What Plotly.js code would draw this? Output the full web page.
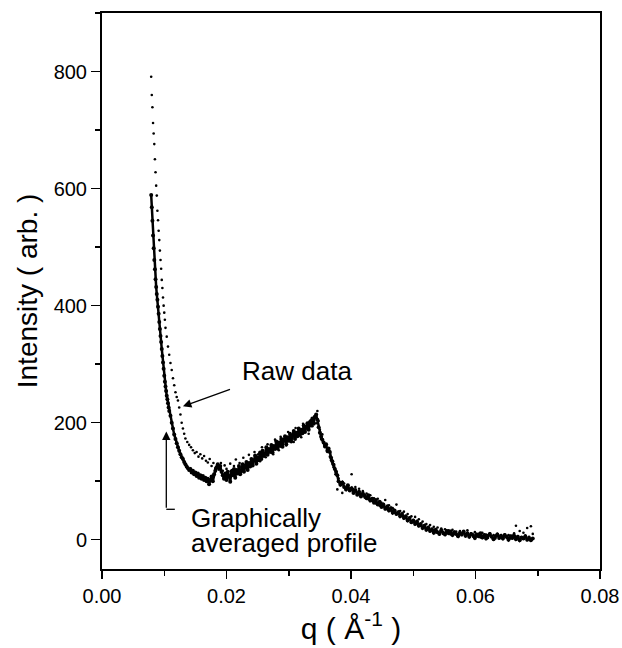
<!DOCTYPE html>
<html>
<head>
<meta charset="utf-8">
<script src="https://cdn.plot.ly/plotly-3.0.1.min.js"></script>
<style>html,body{margin:0;padding:0;background:#fff;}#chart{width:622px;height:648px;}</style>
</head>
<body>
<div id="chart"></div>
<script>
// Raw data (dotted scatter): [q, intensity]
const rawData = [
[0.0079,791],[0.0080,760],[0.0081,739],[0.0082,712],[0.0083,694],[0.0084,676],[0.0085,650],[0.0086,628],[0.0087,605],[0.0088,588],
[0.0089,562],[0.0090,546],[0.0091,528],[0.0092,512],[0.0093,494],[0.0094,478],[0.0095,463],[0.0096,444],[0.0097,430],[0.0098,414],
[0.0099,400],[0.0100,388],[0.0101,376],[0.0102,362],[0.0104,347],[0.0106,330],[0.0108,316],[0.0110,302],[0.0112,290],[0.0114,276],
[0.0116,264],[0.0118,252],[0.0120,244],[0.0122,238],[0.0124,226],[0.0126,214],[0.0128,200],[0.0130,190],[0.0132,181],[0.0134,173],
[0.0137,167],[0.0140,162],[0.0143,158],[0.0146,153],[0.0149,148],[0.0152,150],[0.0155,142],[0.0158,146],[0.0161,139],[0.0164,143],
[0.0167,135],[0.0170,132],[0.0173,138],[0.0176,126],[0.0179,131],[0.0182,122],[0.0185,127],
[0.0188,124],[0.0191,131],[0.0194,118],[0.0197,127],[0.0200,121],[0.0203,112],[0.0206,130],[0.0209,119],[0.0212,126],[0.0215,137],
[0.0218,115],[0.0221,131],[0.0224,124],[0.0227,140],[0.0230,128],[0.0233,121],[0.0236,145],[0.0239,133],[0.0242,127],[0.0245,150],
[0.0248,138],[0.0251,146],[0.0254,134],[0.0257,158],[0.0260,147],[0.0263,141],[0.0266,163],[0.0269,152],[0.0272,158],[0.0275,146],
[0.0278,171],[0.0281,160],[0.0284,153],[0.0287,176],[0.0290,165],[0.0293,172],[0.0296,161],[0.0299,184],[0.0302,170],[0.0305,178],
[0.0308,167],[0.0311,191],[0.0314,180],[0.0317,186],[0.0320,175],[0.0323,198],[0.0326,186],[0.0329,192],[0.0332,181],[0.0335,204],
[0.0338,194],[0.0341,210],[0.0344,199],[0.0346,220],[0.0348,203],
[0.0350,188],[0.0352,172],[0.0354,180],[0.0356,166],[0.0358,158],[0.0360,162],[0.0362,150],[0.0364,155],[0.0366,142],[0.0368,136],
[0.0370,130],[0.0372,124],[0.0375,112],[0.0378,86],[0.0380,105],[0.0383,98],[0.0386,80],[0.0389,96],[0.0392,88],[0.0395,93],
[0.0398,84],[0.0401,112],[0.0404,86],[0.0407,90],[0.0410,80],[0.0413,87],[0.0416,77],[0.0419,83],[0.0422,72],[0.0425,79],
[0.0428,69],[0.0431,76],[0.0434,66],[0.0437,71],[0.0440,62],[0.0443,70],[0.0446,58],[0.0449,63],[0.0452,57],[0.0455,68],
[0.0458,52],[0.0461,59],[0.0464,50],[0.0467,54],[0.0470,46],[0.0473,60],[0.0476,44],[0.0479,49],[0.0482,41],[0.0485,48],
[0.0488,37],[0.0491,44],[0.0494,35],[0.0497,40],[0.0500,31],[0.0503,39],[0.0506,28],[0.0509,35],[0.0512,24],[0.0515,31],
[0.0518,21],[0.0521,27],[0.0524,18],[0.0527,25],[0.0530,16],[0.0533,22],[0.0536,13],[0.0539,21],[0.0542,12],[0.0545,19],
[0.0548,10],[0.0551,18],[0.0554,11],[0.0557,16],[0.0560,9],[0.0563,17],[0.0566,10],[0.0569,14],[0.0572,7],[0.0575,15],
[0.0578,8],[0.0581,12],[0.0584,6],[0.0587,16],[0.0590,7],[0.0593,11],[0.0596,5],[0.0599,13],[0.0602,6],[0.0605,10],
[0.0608,4],[0.0611,12],[0.0614,5],[0.0617,9],[0.0620,3],[0.0623,11],[0.0626,6],[0.0629,8],[0.0632,2],[0.0635,10],
[0.0638,5],[0.0641,7],[0.0644,3],[0.0647,9],[0.0650,4],[0.0653,8],[0.0656,2],[0.0659,7],[0.0662,11],[0.0665,24],
[0.0668,6],[0.0671,15],[0.0674,4],[0.0677,12],[0.0680,7],[0.0683,20],[0.0686,5],[0.0689,23],[0.0692,10]
];

// Graphically averaged profile: [q, intensity]
const avgData = [
[0.0079,589],[0.0080,568],[0.0081,545],[0.0082,520],[0.0083,498],[0.0084,478],[0.0085,462],[0.0086,445],[0.0087,432],[0.0088,420],
[0.0089,410],[0.0090,398],[0.0091,386],[0.0092,372],[0.0093,360],[0.0094,348],[0.0095,338],[0.0096,326],[0.0097,314],[0.0098,303],
[0.0099,292],[0.0100,280],[0.0101,270],[0.0102,262],[0.0103,254],[0.0104,246],[0.0105,240],[0.0106,233],[0.0107,226],[0.0108,220],
[0.0110,212],[0.0112,200],[0.0114,190],[0.0116,180],[0.0118,172],[0.0120,165],[0.0122,158],[0.0124,152],[0.0126,146],[0.0128,141],
[0.0130,138],[0.0132,133],[0.0134,129],[0.0136,125],[0.0138,122],[0.0140,119],[0.0142,121],[0.0144,115],[0.0146,118],[0.0148,112],
[0.0150,115],[0.0152,109],[0.0154,113],[0.0156,106],[0.0158,110],[0.0160,104],[0.0162,109],[0.0164,102],[0.0166,106],[0.0168,100],
[0.0170,104],[0.0172,95],[0.0174,102],[0.0176,108],[0.0178,100],[0.0180,112],[0.0182,118],[0.0184,124],[0.0186,129],[0.0188,121],
[0.0190,126],[0.0192,116],[0.0194,110],
[0.0196,104],[0.0198,113],[0.0200,102],[0.0202,116],[0.0204,108],[0.0206,99],[0.0208,117],[0.0210,110],[0.0212,121],[0.0214,106],
[0.0216,119],[0.0218,113],[0.0220,126],[0.0222,112],[0.0224,118],[0.0226,129],[0.0228,116],[0.0230,124],[0.0232,133],[0.0234,119],
[0.0236,131],[0.0238,125],[0.0240,138],[0.0242,127],[0.0244,135],[0.0246,144],[0.0248,130],[0.0250,141],[0.0252,136],[0.0254,149],
[0.0256,138],[0.0258,152],[0.0260,143],[0.0262,147],[0.0264,158],[0.0266,145],[0.0268,155],[0.0270,150],[0.0272,162],[0.0274,149],
[0.0276,160],[0.0278,155],[0.0280,168],[0.0282,156],[0.0284,166],[0.0286,160],[0.0288,172],[0.0290,159],[0.0292,170],[0.0294,177],
[0.0296,163],[0.0298,175],[0.0300,169],[0.0302,181],[0.0304,168],[0.0306,178],[0.0308,186],[0.0310,172],[0.0312,183],[0.0314,177],
[0.0316,190],[0.0318,179],[0.0320,188],[0.0322,182],[0.0324,195],[0.0326,184],[0.0328,193],[0.0330,199],[0.0332,188],[0.0334,201],
[0.0336,195],[0.0338,207],[0.0340,198],[0.0342,210],[0.0344,214],
[0.0346,205],[0.0348,192],[0.0350,183],[0.0352,176],[0.0354,171],[0.0356,166],[0.0358,160],[0.0360,163],[0.0362,152],[0.0364,156],
[0.0366,150],[0.0368,140],[0.0370,134],[0.0372,128],[0.0374,121],[0.0376,116],[0.0378,110],
[0.0380,100],[0.0383,94],[0.0386,98],[0.0389,90],[0.0392,86],[0.0395,93],[0.0398,84],[0.0401,88],[0.0404,80],[0.0407,85],
[0.0410,77],[0.0413,82],[0.0416,74],[0.0419,79],[0.0422,75],[0.0425,71],[0.0428,76],[0.0431,67],[0.0434,70],[0.0437,63],
[0.0440,68],[0.0443,60],[0.0446,65],[0.0449,56],[0.0452,60],[0.0455,53],[0.0458,57],[0.0461,50],[0.0464,54],[0.0467,46],
[0.0470,50],[0.0473,44],[0.0476,47],[0.0479,40],[0.0482,44],[0.0485,37],[0.0488,40],[0.0491,33],[0.0494,37],[0.0497,30],
[0.0500,33],[0.0503,27],[0.0506,31],[0.0509,24],[0.0512,27],[0.0515,20],[0.0518,24],[0.0521,17],[0.0524,21],[0.0527,15],
[0.0530,18],[0.0533,12],[0.0536,17],[0.0539,13],[0.0542,10],[0.0545,16],[0.0548,12],[0.0551,9],[0.0554,15],[0.0557,11],
[0.0560,14],[0.0563,8],[0.0566,13],[0.0569,10],[0.0572,6],[0.0575,12],[0.0578,9],[0.0581,14],[0.0584,7],[0.0587,11],
[0.0590,5],[0.0593,10],[0.0596,8],[0.0599,3],[0.0602,9],[0.0605,6],[0.0608,11],[0.0611,4],[0.0614,8],[0.0617,2],
[0.0620,7],[0.0623,10],[0.0626,5],[0.0629,1],[0.0632,6],[0.0635,9],[0.0638,3],[0.0641,7],[0.0644,2],[0.0647,8],
[0.0650,5],[0.0653,0],[0.0656,6],[0.0659,3],[0.0662,7],[0.0665,1],[0.0668,5],[0.0671,-1],[0.0674,4],[0.0677,2],
[0.0680,6],[0.0683,0],[0.0686,3],[0.0689,-1],[0.0692,2]
];

const xTickVals = [0, 0.02, 0.04, 0.06, 0.08];
const xTickText = ['0.00', '0.02', '0.04', '0.06', '0.08'];
const yTickVals = [0, 200, 400, 600, 800];
const yTickText = ['0', '200', '400', '600', '800'];

const FONT = 'Liberation Sans, Arial, sans-serif';

const traces = [
  {x: rawData.map(p => p[0]), y: rawData.map(p => p[1]), mode: 'markers', type: 'scatter', name: 'Raw data',
   marker: {color: '#000', size: 2.6}},
  {x: avgData.map(p => p[0]), y: avgData.map(p => p[1]), mode: 'lines+markers', type: 'scatter',
   name: 'Graphically averaged profile',
   line: {color: '#000', width: 2.5}, marker: {color: '#000', size: 4}}
];

const layout = {
  width: 622, height: 648,
  margin: {l: 102, r: 22, t: 13, b: 79},
  paper_bgcolor: '#fff', plot_bgcolor: '#fff',
  showlegend: false,
  font: {family: FONT, color: '#000'},
  xaxis: {
    range: [0, 0.08], tickmode: 'array', tickvals: xTickVals, ticktext: xTickText,
    ticks: 'outside', ticklen: 8, tickwidth: 1.5, tickcolor: '#000',
    minor: {dtick: 0.01, tick0: 0, ticks: 'outside', ticklen: 5, tickwidth: 1.5, tickcolor: '#000'},
    showline: true, linewidth: 2, linecolor: '#000', mirror: true,
    showgrid: false, zeroline: false,
    tickfont: {size: 20, family: FONT},
    title: {text: 'q ( Å<sup>-1</sup> )', font: {size: 30, family: FONT}, standoff: 8}
  },
  yaxis: {
    range: [-50, 900], tickmode: 'array', tickvals: yTickVals, ticktext: yTickText,
    ticks: 'outside', ticklen: 9, tickwidth: 1.5, tickcolor: '#000',
    minor: {dtick: 100, tick0: 0, ticks: 'outside', ticklen: 5, tickwidth: 1.5, tickcolor: '#000'},
    showline: true, linewidth: 2, linecolor: '#000', mirror: true,
    showgrid: false, zeroline: false,
    tickfont: {size: 20, family: FONT},
    title: {text: 'Intensity ( arb. )', font: {size: 28, family: FONT}, standoff: 8}
  },
  annotations: [
    {x: 0.0313, y: 288, xref: 'x', yref: 'y', text: 'Raw data', showarrow: false,
     font: {size: 26, family: FONT}},
    {x: 0.0130, y: 228, ax: 0.0208, ay: 258, xref: 'x', yref: 'y', axref: 'x', ayref: 'y',
     text: '', showarrow: true, arrowhead: 2, arrowsize: 1.3, arrowwidth: 1.3, arrowcolor: '#000'},
    {x: 0.0140, y: 38, xref: 'x', yref: 'y', xanchor: 'left', text: 'Graphically', showarrow: false,
     font: {size: 26, family: FONT}},
    {x: 0.0140, y: -5, xref: 'x', yref: 'y', xanchor: 'left', text: 'averaged profile', showarrow: false,
     font: {size: 26, family: FONT}},
    {x: 0.01033, y: 185, ax: 0.01033, ay: 52, xref: 'x', yref: 'y', axref: 'x', ayref: 'y',
     text: '', showarrow: true, arrowhead: 2, arrowsize: 1.3, arrowwidth: 1.3, arrowcolor: '#000'}
  ],
  shapes: [
    {type: 'line', xref: 'x', yref: 'y', x0: 0.01033, y0: 52, x1: 0.0117, y1: 52,
     line: {color: '#000', width: 1.3}}
  ]
};

Plotly.newPlot('chart', traces, layout, {displayModeBar: false, staticPlot: true});
</script>
</body>
</html>
